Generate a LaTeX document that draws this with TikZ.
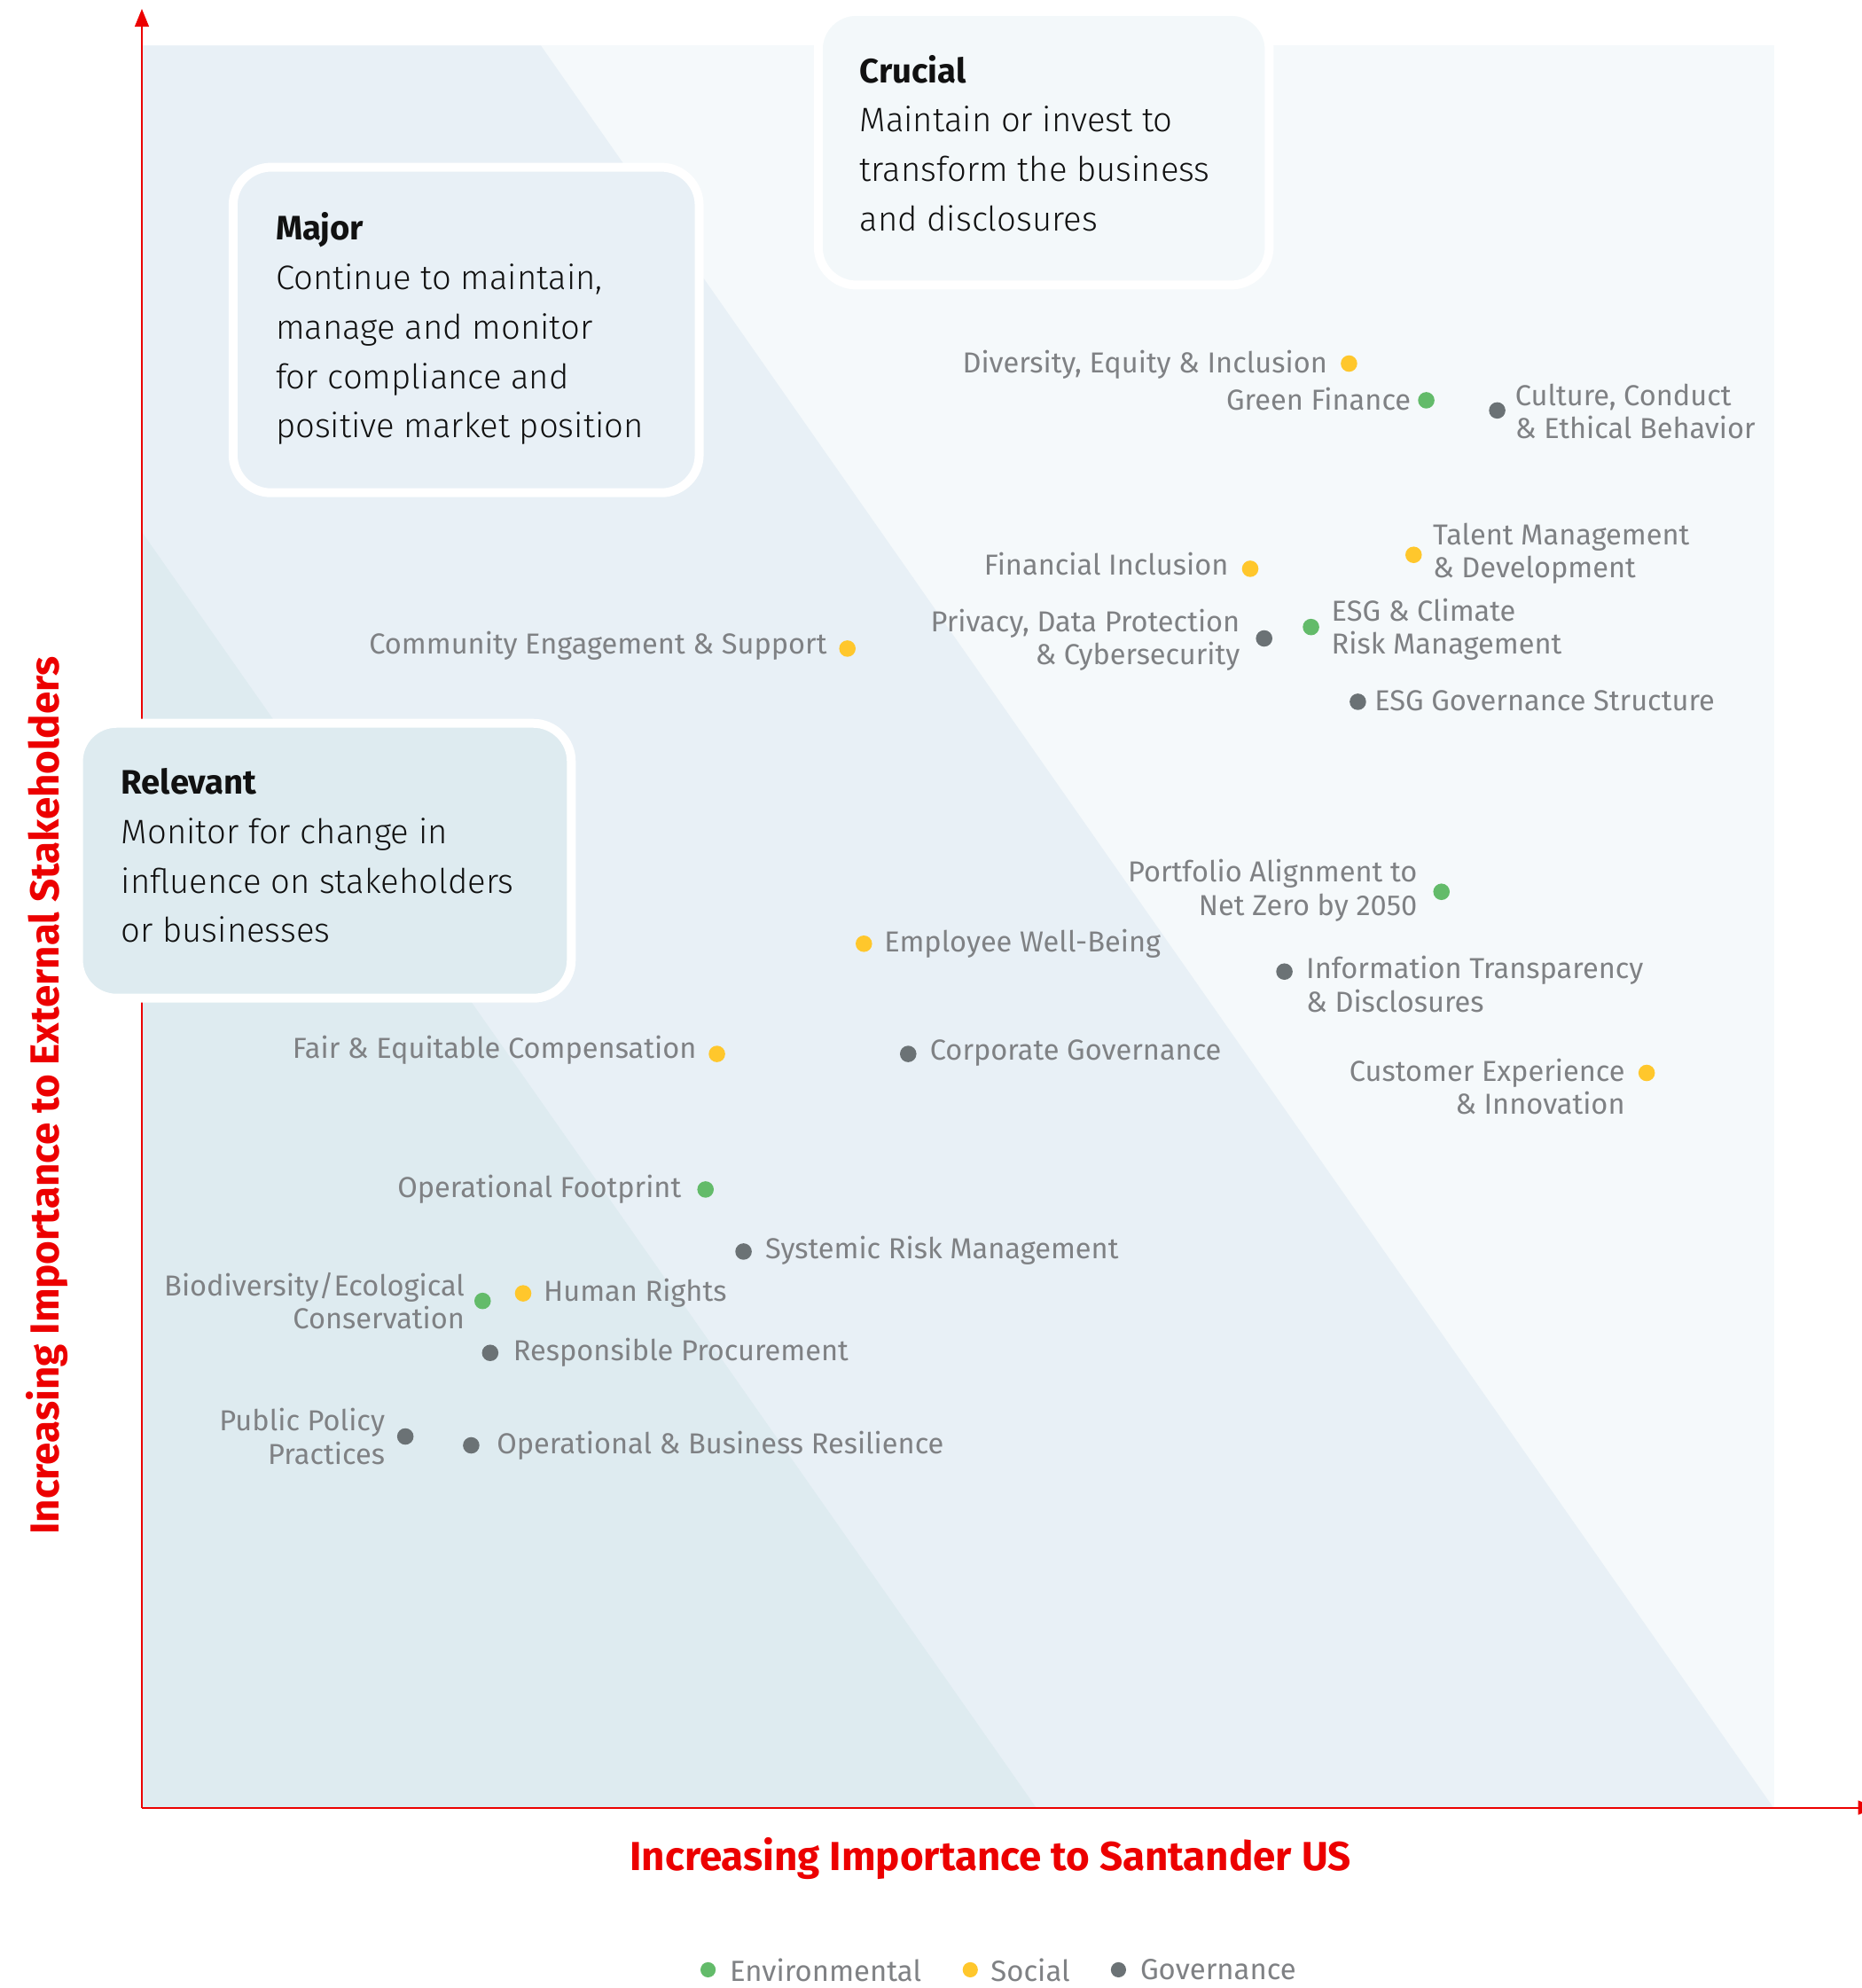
\documentclass[tikz,border=0pt]{standalone}
\usepackage{fontspec}
\setmainfont{Fira Sans}
\IfFontExistsTF{Fira Sans Light}{\newfontfamily\bodylight{Fira Sans Light}}{\newfontfamily\bodylight{Fira Sans}}
\usetikzlibrary{arrows.meta}
\definecolor{sred}{HTML}{EC0000}
\definecolor{bandA}{HTML}{DEEBF0}
\definecolor{bandB}{HTML}{E8F0F6}
\definecolor{bandC}{HTML}{F5F9FB}
\definecolor{crucialfill}{HTML}{F3F8FA}
\definecolor{labgray}{HTML}{7F8184}
\definecolor{cgreen}{HTML}{63BB6A}
\definecolor{cyellow}{HTML}{FFC72C}
\definecolor{cgray}{HTML}{6B7275}
\definecolor{boxtextcol}{HTML}{111111}
\begin{document}
\begin{tikzpicture}[x=1pt,y=-1pt,
  dot/.style={circle,inner sep=0,minimum size=13pt},
  lab/.style={font=\fontsize{22.8}{26}\selectfont,text=labgray,inner sep=0},
  zonebox/.style={draw=white,line width=7pt,rounded corners=30pt,inner sep=0,anchor=north west},
  boxtext/.style={font=\fontsize{26.8}{39}\selectfont\bodylight,text=boxtextcol,inner sep=0,align=left,anchor=west},
  axtitle/.style={font=\fontsize{32}{38}\selectfont\bfseries,text=sred,inner sep=0},
  axisline/.style={draw=sred,line width=1.4pt,-{Triangle[length=14pt,width=11pt]}},
  legtext/.style={font=\fontsize{23}{26}\selectfont,text=labgray,inner sep=0,anchor=west}
]
\useasboundingbox (0,0) rectangle (1470,1569.4);
% background bands
\fill[bandC] (112,36) rectangle (1401,1427);
\fill[bandB] (112,36) -- (427,36) -- (1400,1427) -- (112,1427) -- cycle;
\fill[bandA] (112,420) -- (818,1427) -- (112,1427) -- cycle;
% axes
\coordinate (o) at (112,1427);
\coordinate (ytip) at (112,7);
\coordinate (xtip) at (1481,1427);
\draw[axisline] (o) -- (ytip);
\draw[axisline] (o) -- (xtip);
% zone boxes
\node[zonebox,fill=crucialfill,minimum width=356pt,minimum height=216pt] (crucialbox) at (642.5,5.5) {};
\node[boxtext] (crucialtxt) at ([xshift=36pt,yshift=4pt]crucialbox.west) {{\normalfont\bfseries Crucial}\\Maintain or invest to\\transform the business\\and disclosures};
\node[zonebox,fill=bandB,minimum width=368pt,minimum height=257pt] (majorbox) at (180.5,128.5) {};
\node[boxtext] (majortxt) at ([xshift=37pt,yshift=1pt]majorbox.west) {{\normalfont\bfseries Major}\\Continue to maintain,\\manage and monitor\\for compliance and\\positive market position};
\node[zonebox,fill=bandA,minimum width=389pt,minimum height=217pt] (relbox) at (58.5,567.5) {};
\node[boxtext] (reltxt) at ([xshift=37pt,yshift=4pt]relbox.west) {{\normalfont\bfseries Relevant}\\Monitor for change in\\influence on stakeholders\\or businesses};
% topics
\node[dot,fill=cyellow] (dei) at (1065,287) {};
\node[lab,anchor=east] (deil) at (1048,288) {Diversity, Equity \& Inclusion};
\node[dot,fill=cgreen] (gf) at (1126,316) {};
\node[lab,anchor=east] (gfl) at (1114,315) {Green Finance};
\node[dot,fill=cgray] (ccb) at (1182,324) {};
\node[lab,anchor=west,align=left] (ccbl) at (1196,325) {Culture, Conduct\\\& Ethical Behavior};
\node[dot,fill=cyellow] (tmd) at (1116,438) {};
\node[lab,anchor=west,align=left] (tmdl) at (1131,437) {Talent Management\\\& Development};
\node[dot,fill=cyellow] (fi) at (987,449) {};
\node[lab,anchor=east] (fil) at (970,445) {Financial Inclusion};
\node[dot,fill=cgray] (pdp) at (998,504) {};
\node[lab,anchor=east,align=right] (pdpl) at (979,505) {Privacy, Data Protection\\\& Cybersecurity};
\node[dot,fill=cgreen] (esgc) at (1035,495) {};
\node[lab,anchor=west,align=left] (esgcl) at (1051,497) {ESG \& Climate\\Risk Management};
\node[dot,fill=cgray] (esgg) at (1072,554) {};
\node[lab,anchor=west] (esggl) at (1085,553) {ESG Governance Structure};
\node[dot,fill=cyellow] (ces) at (669,512) {};
\node[lab,anchor=east] (cesl) at (653,510) {Community Engagement \& Support};
\node[dot,fill=cgreen] (paz) at (1138,704) {};
\node[lab,anchor=east,align=right] (pazl) at (1119,703) {Portfolio Alignment to\\Net Zero by 2050};
\node[dot,fill=cyellow] (ewb) at (682,745) {};
\node[lab,anchor=west] (ewbl) at (698,745) {Employee Well-Being};
\node[dot,fill=cgray] (itd) at (1014,767) {};
\node[lab,anchor=west,align=left] (itdl) at (1031,777) {Information Transparency\\\& Disclosures};
\node[dot,fill=cyellow] (fec) at (566,832) {};
\node[lab,anchor=east] (fecl) at (550,829) {Fair \& Equitable Compensation};
\node[dot,fill=cgray] (cg) at (717,832) {};
\node[lab,anchor=west] (cgl) at (734,831) {Corporate Governance};
\node[dot,fill=cyellow] (cei) at (1300,847) {};
\node[lab,anchor=east,align=right] (ceil) at (1283,858) {Customer Experience\\\& Innovation};
\node[dot,fill=cgreen] (of) at (557,939) {};
\node[lab,anchor=east] (ofl) at (538,939) {Operational Footprint};
\node[dot,fill=cgray] (srm) at (587,988) {};
\node[lab,anchor=west] (srml) at (604,987) {Systemic Risk Management};
\node[dot,fill=cgreen] (bec) at (381,1027) {};
\node[lab,anchor=east,align=right] (becl) at (367,1027) {Biodiversity/Ecological\\Conservation};
\node[dot,fill=cyellow] (hr) at (413,1021) {};
\node[lab,anchor=west] (hrl) at (429,1021) {Human Rights};
\node[dot,fill=cgray] (rp) at (387,1068) {};
\node[lab,anchor=west] (rpl) at (405,1068) {Responsible Procurement};
\node[dot,fill=cgray] (ppp) at (320,1134) {};
\node[lab,anchor=east,align=right] (pppl) at (304,1134) {Public Policy\\Practices};
\node[dot,fill=cgray] (obr) at (372,1141) {};
\node[lab,anchor=west] (obrl) at (392,1141) {Operational \& Business Resilience};
% axis titles
\node[axtitle] (xtitle) at (782,1467) {Increasing Importance to Santander US};
\node[axtitle,rotate=90] (ytitle) at (37,865) {Increasing Importance to External Stakeholders};
% legend
\node[dot,fill=cgreen,minimum size=12pt] (legenv) at (559,1555) {};
\node[legtext] (legenvt) at (576,1555) {Environmental};
\node[dot,fill=cyellow,minimum size=12pt] (legsoc) at (766,1555) {};
\node[legtext] (legsoct) at (782,1555) {Social};
\node[dot,fill=cgray,minimum size=12pt] (leggov) at (883,1555) {};
\node[legtext] (leggovt) at (900,1555) {Governance};
\end{tikzpicture}
\end{document}
